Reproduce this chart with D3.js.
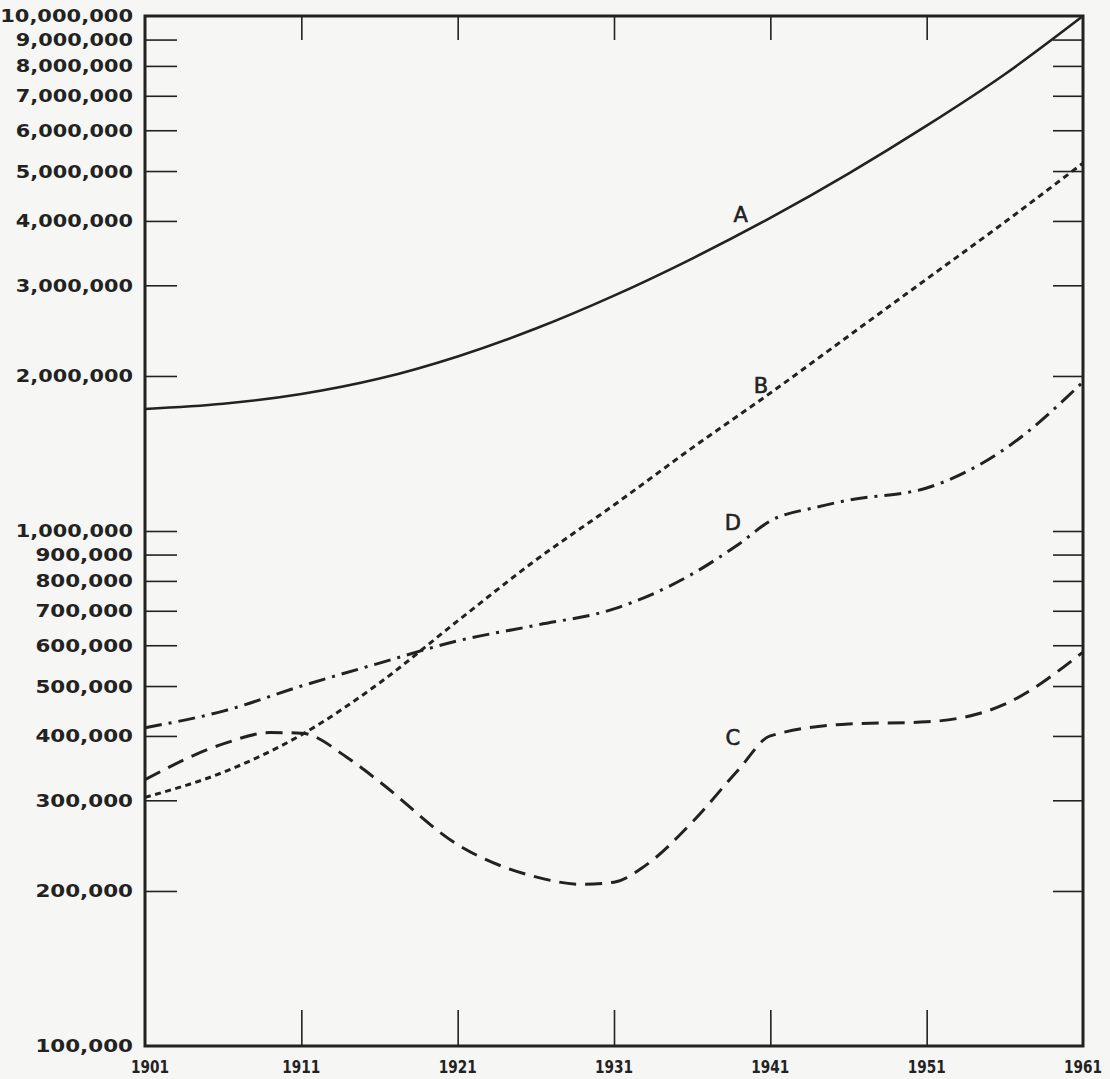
<!DOCTYPE html>
<html>
<head>
<meta charset="utf-8">
<script src="https://cdn.jsdelivr.net/npm/d3@7"></script>
<style>
  body { margin: 0; background: #f6f6f4; }
  svg { display: block; }
  .tick line { stroke: #222; stroke-width: 1.6; }
</style>
</head>
<body>
<div id="chart"></div>
<script>
// census years on the x axis
var yearTicks = [1901, 1911, 1921, 1931, 1941, 1951, 1961];
// log axis ticks, 100,000 .. 10,000,000
var popTicks = [100000, 200000, 300000, 400000, 500000, 600000, 700000, 800000, 900000,
                1000000, 2000000, 3000000, 4000000, 5000000, 6000000, 7000000, 8000000, 9000000, 10000000];

// A - solid
var yearsA = [1901, 1906, 1911, 1916, 1921, 1926, 1931, 1936, 1941, 1946, 1951, 1956, 1961];
var valuesA = [1726000, 1766000, 1845000, 1977000, 2183000, 2472000, 2864000, 3381000, 4055000, 4943000, 6124000, 7709000, 10000000];

// B - dotted
var yearsB = [1901, 1906, 1911, 1916, 1921, 1926, 1931, 1936, 1941, 1946, 1951, 1956, 1961];
var valuesB = [304000, 340000, 402000, 507000, 669000, 878000, 1123000, 1450000, 1853000, 2391000, 3085000, 3980000, 5180000];

// C - long dashes
var yearsC = [1901, 1906, 1909, 1911, 1914, 1916, 1921, 1926, 1929, 1931, 1933, 1936, 1939, 1941, 1946, 1951, 1956, 1961];
var valuesC = [329000, 386000, 406000, 405000, 362000, 326000, 246000, 213000, 206000, 208000, 224000, 272000, 345000, 400000, 422000, 426000, 461000, 582000];

// D - dash dot
var yearsD = [1901, 1906, 1911, 1916, 1921, 1926, 1931, 1936, 1939, 1941, 1944, 1946, 1951, 1956, 1961];
var valuesD = [415000, 447000, 500000, 554000, 612000, 656000, 706000, 825000, 944000, 1046000, 1113000, 1148000, 1212000, 1443000, 1947000];

var W = 1110, H = 1079;
var plotL = 145, plotR = 1083, plotT = 16, plotB = 1046;
var ink = "#222";

var svg = d3.select("#chart").append("svg")
    .attr("width", W)
    .attr("height", H);

svg.append("rect").attr("width", W).attr("height", H).attr("fill", "#f6f6f4");

var x = d3.scaleLinear().domain([1901, 1961]).range([plotL, plotR]);
var y = d3.scaleLog().domain([100000, 10000000]).range([plotB, plotT]);

var innerPop = popTicks.slice(1, -1);
var innerYears = yearTicks.slice(1, -1);

// tick marks on all four sides, pointing inwards
svg.append("g").attr("transform", "translate(" + plotL + ",0)")
    .call(d3.axisRight(y).tickValues(innerPop).tickSize(32).tickFormat(""))
    .call(function(g) { g.select(".domain").remove(); });
svg.append("g").attr("transform", "translate(" + plotR + ",0)")
    .call(d3.axisLeft(y).tickValues(innerPop).tickSize(30).tickFormat(""))
    .call(function(g) { g.select(".domain").remove(); });
svg.append("g").attr("transform", "translate(0," + plotB + ")")
    .call(d3.axisTop(x).tickValues(innerYears).tickSize(36).tickFormat(""))
    .call(function(g) { g.select(".domain").remove(); });
svg.append("g").attr("transform", "translate(0," + plotT + ")")
    .call(d3.axisBottom(x).tickValues(innerYears).tickSize(24).tickFormat(""))
    .call(function(g) { g.select(".domain").remove(); });

// frame
svg.append("rect")
    .attr("x", plotL).attr("y", plotT)
    .attr("width", plotR - plotL).attr("height", plotB - plotT)
    .attr("fill", "none")
    .attr("stroke", ink)
    .attr("stroke-width", 3);

// y labels (wide, geometric look -> stretched glyphs)
var fmt = d3.format(",");
svg.selectAll("text.ylab")
    .data(popTicks)
    .enter().append("text")
    .attr("class", "ylab")
    .attr("x", 133)
    .attr("y", function(d) { return y(d); })
    .attr("dy", "0.36em")
    .attr("text-anchor", "end")
    .attr("font-family", "DejaVu Sans")
    .attr("font-weight", "bold")
    .attr("font-size", 18)
    .attr("fill", ink)
    .attr("textLength", function(d) {
        var s = fmt(d);
        var digits = s.replace(/,/g, "").length;
        return digits * 15.6 + (s.length - digits) * 4;
    })
    .attr("lengthAdjust", "spacingAndGlyphs")
    .text(function(d) { return fmt(d); });

// x labels
svg.selectAll("text.xlab")
    .data(yearTicks)
    .enter().append("text")
    .attr("class", "xlab")
    .attr("x", function(d) { return x(d) + (d === 1901 ? 5 : 0); })
    .attr("y", 1073)
    .attr("text-anchor", "middle")
    .attr("font-family", "DejaVu Sans")
    .attr("font-weight", "bold")
    .attr("font-size", 17)
    .attr("fill", ink)
    .attr("textLength", 38)
    .attr("lengthAdjust", "spacingAndGlyphs")
    .text(function(d) { return d; });

// curves
var line = d3.line()
    .x(function(d) { return x(d[0]); })
    .y(function(d) { return y(d[1]); })
    .curve(d3.curveMonotoneX);

var series = [
    { name: "A", years: yearsA, values: valuesA, dash: null, width: 2.6 },
    { name: "B", years: yearsB, values: valuesB, dash: "6,4.5", width: 3 },
    { name: "C", years: yearsC, values: valuesC, dash: "17,9", width: 3 },
    { name: "D", years: yearsD, values: valuesD, dash: "17,7,3,7", width: 3 }
];

svg.selectAll("path.curve")
    .data(series)
    .enter().append("path")
    .attr("class", "curve")
    .attr("d", function(s) { return line(s.years.map(function(yr, i) { return [yr, s.values[i]]; })); })
    .attr("fill", "none")
    .attr("stroke", ink)
    .attr("stroke-width", function(s) { return s.width; })
    .attr("stroke-dasharray", function(s) { return s.dash; });

// curve letters
var letters = [
    { name: "A", year: 1939.1, value: 3980000 },
    { name: "B", year: 1940.4, value: 1853000 },
    { name: "C", year: 1938.6, value: 384000 },
    { name: "D", year: 1938.6, value: 1004500 }
];
svg.selectAll("text.letter")
    .data(letters)
    .enter().append("text")
    .attr("class", "letter")
    .attr("x", function(d) { return x(d.year); })
    .attr("y", function(d) { return y(d.value); })
    .attr("text-anchor", "middle")
    .attr("font-family", "DejaVu Sans")
    .attr("font-size", 21)
    .attr("fill", ink)
    .attr("stroke", ink)
    .attr("stroke-width", 0.6)
    .text(function(d) { return d.name; });
</script>
</body>
</html>
